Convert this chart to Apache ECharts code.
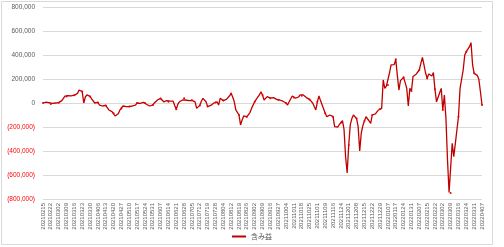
<!DOCTYPE html>
<html><head><meta charset="utf-8">
<script src="https://cdn.jsdelivr.net/npm/echarts@6/dist/echarts.min.js"></script>
<style>html,body{margin:0;padding:0;background:#fff}#c{width:504px;height:247px}</style>
</head><body><div id="c"></div>
<script>
// Japanese market holidays in range (dates excluded from the trading-day axis)
const holidays = ["2021-02-23","2021-04-29","2021-05-03","2021-05-04","2021-05-05","2021-07-22","2021-07-23","2021-08-09","2021-09-20","2021-09-23","2021-11-03","2021-11-23","2021-12-31","2022-01-03","2022-01-10","2022-02-11","2022-02-23","2022-03-21"];
const startDate = "2021-02-15";
const endDate = "2022-04-07";
const seriesName = "含み益";
// unrealized gain, in thousands of yen, one per trading day
const gainThousands = [
0,5,8,10,2,-8,-3,2,0,-5,3,0,20,30,58,55,62,58,60,70,
65,75,80,108,100,95,0,50,67,62,55,35,25,0,8,5,-17,-10,-25,-35,
-20,-28,-58,-50,-72,-85,-108,-100,-90,-60,-45,-25,-35,-30,-25,-30,-35,-25,-20,-17,
0,5,-3,0,5,0,-10,-20,-25,-15,-17,0,10,25,33,38,35,10,18,20,
10,15,18,15,-20,-53,-10,10,20,25,39,25,10,20,25,22,20,10,-45,-40,
-20,15,39,25,10,-30,-25,-20,-10,0,5,10,-17,39,30,20,25,30,45,60,
80,50,10,-58,-58,-100,-183,-142,-108,-110,-115,-100,-80,-45,-30,10,30,50,67,94,
67,25,40,53,45,40,50,45,35,30,28,25,20,15,5,0,-17,10,20,58,
45,40,35,50,67,60,67,55,45,35,30,15,0,-30,-58,10,58,20,-15,-50,
-86,-114,-105,-100,-110,-114,-197,-195,-200,-180,-165,-147,-220,-450,-583,-350,-180,-130,-100,-110,
-130,-197,-400,-250,-190,-150,-114,-130,-150,-170,-100,-86,-90,-100,-58,-50,-45,192,122,140,
150,250,317,317,320,364,230,108,186,190,214,170,122,-25,122,100,220,235,240,247,
275,330,380,317,250,205,242,230,225,253,114,10,20,86,122,-58,67,-128,-475,-745,
-750,-336,-447,-336,-225,-114,122,136,275,400,428,420,469,503,317,247,247,230,197,94,
-17
];

function buildDates(){
  const out=[]; const hs=new Set(holidays);
  const d=new Date(startDate+"T00:00:00Z"); const e=new Date(endDate+"T00:00:00Z");
  while(d<=e){
    const wd=d.getUTCDay();
    const iso=d.toISOString().slice(0,10);
    if(wd!==0&&wd!==6&&!hs.has(iso)) out.push(iso.replace(/-/g,""));
    d.setUTCDate(d.getUTCDate()+1);
  }
  return out;
}
const categories = buildDates();
const values = gainThousands.map(v=>v*1000);

const chart = echarts.init(document.getElementById('c'),null,{renderer:'canvas'});
function fmt(v){const s=Math.abs(v).toLocaleString('en-US');return v<0?'('+s+')':s;}
chart.setOption({
  animation:false,
  backgroundColor:'#fff',
  graphic:[{type:'rect',shape:{x:1.5,y:1.5,width:491,height:243},style:{fill:'none',stroke:'#d9d9d9',lineWidth:1},silent:true}],
  grid:{left:43,right:22,top:7,bottom:48,containLabel:false},
  legend:{bottom:2,left:'center',itemWidth:14,itemHeight:2,icon:'rect',itemGap:4,
    textStyle:{fontSize:7,color:'#595959',fontFamily:'Noto Sans CJK JP'},
    data:[{name:seriesName,icon:'rect',itemStyle:{color:'#c00000'}}]},
  xAxis:{type:'category',data:categories,boundaryGap:false,
    axisLine:{show:false},axisTick:{show:false},
    axisLabel:{rotate:90,interval:4,fontSize:6,color:'#595959',margin:4,fontFamily:'Liberation Sans'},
    splitLine:{show:false}},
  yAxis:{type:'value',min:-800000,max:800000,interval:200000,
    axisLine:{show:false},axisTick:{show:false},
    splitLine:{lineStyle:{color:'#d9d9d9',width:1}},
    axisLabel:{fontSize:6.5,margin:8,fontFamily:'Liberation Sans',
      formatter:function(v){return v<0?'{n|'+fmt(v)+'}':'{p|'+fmt(v)+'}';},
      rich:{n:{color:'#ff0000',fontSize:6.5},p:{color:'#595959',fontSize:6.5}}}},
  series:[{name:seriesName,type:'line',data:values,
    lineStyle:{color:'#c00000',width:1.3},
    itemStyle:{color:'#ee0000'},
    symbol:'circle',symbolSize:2,showSymbol:true,
    emphasis:{disabled:true}}]
});
</script></body></html>
